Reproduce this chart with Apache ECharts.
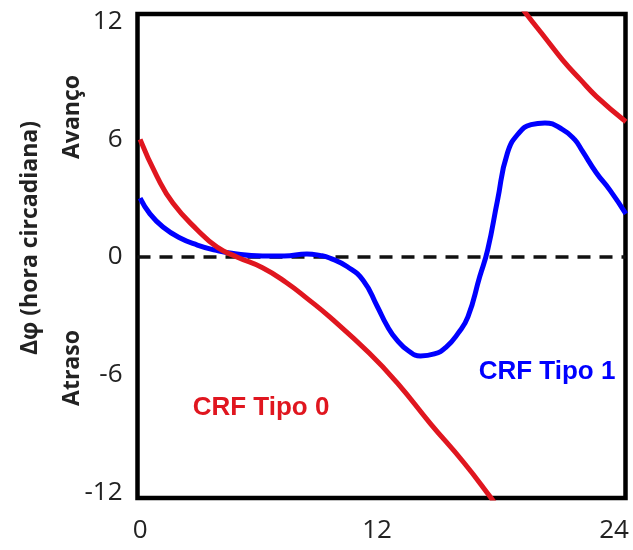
<!DOCTYPE html>
<html>
<head>
<meta charset="utf-8">
<script src="https://cdn.jsdelivr.net/npm/echarts@6/dist/echarts.min.js"></script>
<style>html,body{margin:0;padding:0;background:#fff}#c{width:633px;height:550px}</style>
</head>
<body>
<div id="c"></div>
<script>
// X ticks and Y ticks
var xTicks = [0, 12, 24];
var yTicks = [-12, -6, 0, 6, 12];

// CRF Tipo 1 (blue)
var tipo1X = [0, 0.5, 1.16, 2.0, 2.9, 3.8, 4.56, 6.2, 7.3, 8.45, 9.1, 9.6, 10.5, 11.3, 12.0, 12.5, 13.0, 13.6, 14.2, 14.9, 15.5, 16.1, 16.6, 17.2, 17.6, 18.1, 18.6, 19.2, 19.8, 20.5, 21.4, 22.0, 22.4, 23.1, 23.8, 24.6];
var tipo1Y = [3.0, 2.2, 1.53, 0.98, 0.61, 0.35, 0.2, 0.05, 0.05, 0.15, 0.08, -0.05, -0.5, -1.2, -2.5, -3.5, -4.23, -4.8, -5.05, -4.95, -4.6, -3.9, -3.06, -1.0, 0.36, 2.9, 5.3, 6.35, 6.75, 6.84, 6.5, 6.0, 5.4, 4.3, 3.4, 2.2];

// CRF Tipo 0 (red), lower branch
var tipo0aX = [0, 0.86, 1.67, 2.9, 3.9, 4.9, 6.2, 7.4, 8.5, 9.6, 11.6, 13.0, 14.7, 16.4, 17.7, 18.2];
var tipo0aY = [6.0, 4.1, 2.74, 1.38, 0.5, 0.0, -0.55, -1.3, -2.15, -3.06, -4.9, -6.4, -8.5, -10.5, -12.2, -12.9];
// CRF Tipo 0 (red), upper branch (wrapped)
var tipo0bX = [19.2, 19.6, 20.5, 21.4, 22.3, 23.1, 24.6];
var tipo0bY = [12.9, 12.35, 11.2, 10.05, 9.05, 8.2, 6.9];

function pairs(xs, ys) { return xs.map(function (x, i) { return [x, ys[i]]; }); }

var RED = '#e0161f', BLUE = '#0000ff';
var chart = echarts.init(document.getElementById('c'));
chart.setOption({
  animation: false,
  grid: { left: 137.5, right: 7.5, top: 14, bottom: 52, show: true, borderColor: '#000', borderWidth: 4.5, backgroundColor: 'transparent' },
  xAxis: {
    type: 'value', min: -0.13, max: 24.58,
    axisLine: { show: false }, axisTick: { show: false }, splitLine: { show: false },
    axisLabel: { customValues: xTicks, margin: 20, fontSize: 26, color: '#222', fontFamily: 'Open Sans' }
  },
  yAxis: {
    type: 'value', min: -12.3, max: 12.4,
    axisLine: { show: false }, axisTick: { show: false }, splitLine: { show: false },
    axisLabel: { customValues: yTicks, margin: 15, fontSize: 26, color: '#222', fontFamily: 'Open Sans' }
  },
  series: [
    {
      type: 'line', data: pairs(tipo1X, tipo1Y), smooth: 0.5, showSymbol: false, z: 3,
      lineStyle: { color: BLUE, width: 5 },
      markLine: {
        silent: true, symbol: 'none', label: { show: false }, z: 1,
        lineStyle: { color: '#111', width: 3.5, type: [13, 9] },
        data: [{ yAxis: 0 }]
      }
    },
    { type: 'line', data: pairs(tipo0aX, tipo0aY), smooth: 0.5, showSymbol: false, z: 4, lineStyle: { color: RED, width: 5 } },
    { type: 'line', data: pairs(tipo0bX, tipo0bY), smooth: 0.5, showSymbol: false, z: 4, lineStyle: { color: RED, width: 5 } }
  ],
  graphic: [
    { type: 'text', x: 30, y: 238, rotation: Math.PI / 2, style: { text: 'Δφ (hora circadiana)', fontSize: 23, fontWeight: 'bold', fontFamily: 'Open Sans', fill: '#222', align: 'center', verticalAlign: 'middle' } },
    { type: 'text', x: 72, y: 117, rotation: Math.PI / 2, style: { text: 'Avanço', fontSize: 23, fontWeight: 'bold', fontFamily: 'Open Sans', fill: '#222', align: 'center', verticalAlign: 'middle' } },
    { type: 'text', x: 72, y: 368, rotation: Math.PI / 2, style: { text: 'Atraso', fontSize: 23, fontWeight: 'bold', fontFamily: 'Open Sans', fill: '#222', align: 'center', verticalAlign: 'middle' } },
    { type: 'text', x: 261, y: 408, style: { text: 'CRF Tipo 0', fontSize: 26, fontWeight: 'bold', fontFamily: 'Liberation Sans', fill: RED, align: 'center', verticalAlign: 'middle' } },
    { type: 'text', x: 547, y: 372, style: { text: 'CRF Tipo 1', fontSize: 26, fontWeight: 'bold', fontFamily: 'Liberation Sans', fill: BLUE, align: 'center', verticalAlign: 'middle' } }
  ]
});
</script>
</body>
</html>
